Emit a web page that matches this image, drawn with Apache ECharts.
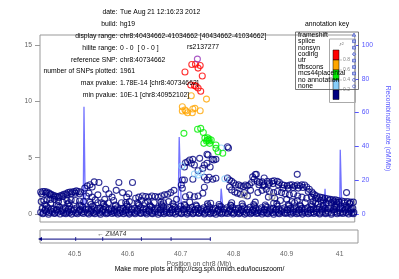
<!DOCTYPE html>
<html><head><meta charset="utf-8">
<script src="https://cdn.jsdelivr.net/npm/echarts@6/dist/echarts.min.js"></script>
<style>html,body{margin:0;padding:0;background:#fff}#c{width:399px;height:279px}</style>
</head><body><div id="c"></div>
<script>
// ---- axes ----
const xRange = [40.434662, 41.034662];
const xTicks = [40.5, 40.6, 40.7, 40.8, 40.9, 41];
const pTicks = [0, 5, 10, 15];
const recTicks = [0, 20, 40, 60, 80, 100];

// ---- SNPs: [position (Mb), -log10 p] ----
const snpRef = [[40.7347, 13.75]];
const snpRed = [[40.711,12.6],[40.724,13.27],[40.731,13.3],[40.740,13.18],[40.736,12.95],[40.744,12.25],
  [40.722,11.45],[40.729,11.4],[40.736,11.18],[40.741,10.9],[40.732,11.35]];
const snpOrange = [[40.752,10.2],[40.723,10.5],[40.706,9.52],[40.711,9.23],[40.716,8.99],[40.726,9.32],
  [40.725,8.99],[40.740,9.17],[40.706,9.14],[40.730,9.38],[40.713,9.14]];
const snpGreen = [[40.709,7.16],[40.735,7.52],[40.741,7.6],[40.746,7.23],[40.754,6.77],[40.754,6.57],
  [40.757,6.65],[40.752,6.48],[40.757,6.48],[40.747,6.27],[40.758,6.27],[40.761,6.57],[40.770,6.12],
  [40.770,5.83],[40.774,5.53],[40.783,5.39],[40.749,6.74]];
const snpLightBlue = [[40.705,4.26],[40.736,3.46],[40.742,3.66],[40.787,3.13],[40.780,5.86],[40.729,3.55]];
const snpGray = [[40.824,1.69],[40.877,1.53]];
const snpNavy = [
  [40.792,5.97],[40.794,5.86],[40.770,4.85],[40.763,4.85],[40.753,5.3],[40.739,4.94],[40.726,4.85],[40.720,4.79],
  [40.716,4.64],[40.712,4.55],[40.723,4.5],[40.729,4.35],[40.748,4.35],[40.753,4.5],[40.745,4.05],[40.736,3.84],
  [40.726,3.08],[40.748,3.26],[40.757,3.26],[40.764,3.08],[40.770,3.17],[40.753,3.02],[40.706,3.02],[40.706,2.28],
  [40.748,2.37],[40.745,1.84],[40.720,1.69],[40.729,1.53],[40.736,1.6],[40.712,1.53],[40.766,4.79],[40.755,5.24],
  [40.710,4.17],[40.704,2.57],[40.710,3.02],[40.759,4.17],
  [40.792,3.19],[40.796,3.02],[40.800,2.9],[40.804,2.75],[40.808,2.57],[40.813,2.6],[40.817,2.5],[40.822,2.44],
  [40.826,2.57],[40.830,2.5],[40.834,2.6],[40.838,2.8],[40.843,3.1],[40.845,3.5],[40.840,3.3],[40.796,2.4],
  [40.800,2.13],[40.806,1.95],[40.811,1.85],[40.817,1.75],[40.824,1.9],[40.830,1.6],[40.836,2.1],
  [40.849,2.9],[40.853,2.8],[40.858,2.85],[40.862,2.6],[40.868,2.9],[40.872,2.75],[40.877,2.9],[40.881,2.95],
  [40.887,2.9],[40.891,2.8],[40.896,2.6],[40.900,2.55],[40.906,2.5],[40.911,2.57],[40.915,2.6],[40.920,2.5],
  [40.925,2.57],[40.930,2.5],[40.934,2.6],[40.939,2.57],[40.943,2.4],[40.948,2.2],[40.953,1.95],[40.958,1.7],
  [40.962,1.6],[40.968,1.5],[40.973,1.45],[40.978,1.4],[40.983,1.35],[40.988,1.3],[40.993,1.25],[40.998,1.25],
  [41.003,1.2],[41.010,1.15],[41.015,1.1],[41.021,1.1],[41.027,1.05],[41.032,1.05],
  [40.852,2.6],[40.860,2.5],[40.870,2.6],[40.879,2.7],[40.889,2.6],[40.898,2.3],[40.908,2.3],[40.917,2.35],
  [40.927,2.3],[40.936,2.35],[40.946,2.0],[40.955,1.8],[40.965,1.35],[40.975,1.25],[40.985,1.2],[40.995,1.1],
  [41.005,1.05],[41.015,0.95],[41.025,0.9],
  [40.847,3.52],[40.925,3.52],[40.862,3.2],[41.019,1.9],
  [40.850,1.9],[40.858,2.1],[40.866,2.2],[40.872,2.0],[40.880,1.9],[40.887,2.0],[40.895,1.9],[40.902,1.8],
  [40.910,1.7],[40.918,1.8],[40.926,1.6],[40.934,1.5],[40.943,1.4],[40.952,1.5],[40.960,1.4],[40.970,1.2],
  [40.980,1.0],[40.990,1.0],[41.000,0.9],
  [40.870,1.5],[40.882,1.4],[40.893,1.2],[40.905,1.3],[40.915,1.1],[40.925,1.2],[40.940,1.0],[40.955,1.1],[40.965,0.9],
  [40.436,1.95],[40.440,2.0],[40.444,2.0],[40.448,1.95],[40.452,1.85],[40.456,1.75],[40.460,1.65],[40.464,1.6],
  [40.468,1.55],[40.472,1.6],[40.476,1.65],[40.480,1.75],[40.484,1.8],[40.488,1.9],[40.492,1.95],[40.496,1.95],
  [40.500,2.0],[40.504,2.05],[40.508,2.0],[40.512,1.95],
  [40.438,1.8],[40.446,1.85],[40.454,1.7],[40.462,1.5],[40.470,1.45],[40.478,1.55],[40.486,1.7],[40.494,1.8],
  [40.502,1.85],[40.510,1.8],
  [40.437,1.1],[40.442,1.2],[40.448,1.25],[40.455,1.3],[40.462,1.3],[40.470,1.1],[40.478,1.05],[40.486,1.2],
  [40.494,1.25],[40.502,1.2],[40.510,1.15],[40.518,1.1],
  [40.525,2.5],[40.530,2.6],[40.534,2.4],[40.538,2.85],[40.547,2.8],[40.528,1.85],[40.534,1.5],[40.540,1.25],
  [40.545,1.7],[40.552,1.0],[40.560,2.2],[40.566,1.8],[40.572,1.5],[40.580,2.1],[40.585,2.8],[40.592,1.9],
  [40.600,1.5],[40.604,1.8],[40.611,2.8],[40.617,1.4],[40.623,1.5],[40.630,1.6],[40.636,1.55],[40.642,1.5],
  [40.648,1.6],[40.654,1.55],[40.660,1.5],[40.666,1.6],[40.672,1.7],[40.678,1.75],[40.684,1.9],[40.690,2.1],
  [40.620,1.0],[40.628,1.2],[40.640,1.1],[40.652,1.0],[40.665,1.05],[40.680,1.1],[40.695,1.3],[40.575,1.2],
  [40.590,1.0],[40.605,1.1],[40.558,1.3],[40.545,1.0],[40.520,2.3],[40.523,1.6],
  [40.436,0.15],[40.441,0.1],[40.447,0.2],[40.452,0.12],[40.458,0.18],[40.463,0.1],[40.469,0.15],[40.475,0.22],
  [40.480,0.1],[40.486,0.16],[40.491,0.12],[40.497,0.2],[40.503,0.1],[40.508,0.18],[40.514,0.14],[40.519,0.2],
  [40.525,0.1],[40.531,0.16],[40.536,0.12],[40.542,0.2],[40.548,0.1],[40.553,0.18],[40.559,0.14],[40.564,0.1],
  [40.570,0.2],[40.576,0.12],[40.581,0.16],[40.587,0.1],[40.592,0.2],[40.598,0.14],[40.604,0.1],[40.609,0.18],
  [40.615,0.12],[40.620,0.2],[40.626,0.1],[40.632,0.16],[40.637,0.12],[40.643,0.2],[40.648,0.1],[40.654,0.18],
  [40.660,0.14],[40.665,0.1],[40.671,0.2],[40.676,0.12],[40.682,0.16],[40.688,0.1],[40.693,0.2],[40.699,0.14],
  [40.704,0.1],[40.710,0.18],[40.716,0.12],[40.721,0.2],[40.727,0.1],[40.732,0.16],[40.738,0.12],[40.744,0.2],
  [40.749,0.1],[40.755,0.18],[40.760,0.14],[40.766,0.1],[40.772,0.2],[40.777,0.12],[40.783,0.16],[40.788,0.1],
  [40.794,0.2],[40.800,0.14],[40.805,0.1],[40.811,0.18],[40.816,0.12],[40.822,0.2],[40.828,0.1],[40.833,0.16],
  [40.839,0.12],[40.844,0.2],[40.850,0.1],[40.856,0.18],[40.861,0.14],[40.867,0.1],[40.872,0.2],[40.878,0.12],
  [40.884,0.16],[40.889,0.1],[40.895,0.2],[40.900,0.14],[40.906,0.1],[40.912,0.18],[40.917,0.12],[40.923,0.2],
  [40.928,0.1],[40.934,0.16],[40.940,0.12],[40.945,0.2],[40.951,0.1],[40.956,0.18],[40.962,0.14],[40.968,0.1],
  [40.973,0.2],[40.979,0.12],[40.984,0.16],[40.990,0.1],[40.996,0.2],[41.001,0.14],[41.007,0.1],[41.012,0.18],
  [41.018,0.12],[41.024,0.2],[41.029,0.1],[41.033,0.16],
  [40.439,0.5],[40.450,0.55],[40.461,0.45],[40.472,0.6],[40.483,0.5],[40.494,0.4],[40.505,0.55],[40.516,0.6],
  [40.527,0.45],[40.538,0.55],[40.549,0.5],[40.560,0.6],[40.571,0.45],[40.582,0.55],[40.593,0.5],[40.604,0.6],
  [40.615,0.5],[40.626,0.55],[40.637,0.45],[40.648,0.6],[40.659,0.5],[40.670,0.65],[40.681,0.55],[40.692,0.6],
  [40.703,0.7],[40.714,0.55],[40.725,0.6],[40.736,0.5],[40.747,0.55],[40.758,0.6],[40.769,0.5],[40.780,0.65],
  [40.791,0.55],[40.802,0.6],[40.813,0.5],[40.824,0.55],[40.835,0.6],[40.846,0.5],[40.857,0.55],[40.868,0.6],
  [40.879,0.5],[40.890,0.45],[40.901,0.55],[40.912,0.5],[40.923,0.6],[40.934,0.5],[40.945,0.55],[40.956,0.45],
  [40.967,0.6],[40.978,0.5],[40.989,0.55],[41.000,0.6],[41.011,0.5],[41.022,0.55],[41.031,0.5],
  [40.445,0.42],[40.456,0.45],[40.467,0.4],[40.478,0.44],[40.489,0.42],[40.500,0.46],[40.511,0.4],[40.522,0.44],
  [40.533,0.42],[40.544,0.47],[40.555,0.41],[40.566,0.44],[40.577,0.42],[40.588,0.45],[40.599,0.4],[40.610,0.44],
  [40.621,0.42],[40.632,0.46],[40.643,0.4],[40.654,0.44],[40.665,0.42],[40.676,0.45],[40.687,0.41],[40.698,0.44],
  [40.709,0.42],[40.720,0.46],[40.731,0.4],[40.742,0.44],[40.753,0.42],[40.764,0.45],[40.775,0.41],[40.786,0.44],
  [40.797,0.42],[40.808,0.46],[40.819,0.4],[40.830,0.44],[40.841,0.42],[40.852,0.45],[40.863,0.41],[40.874,0.44],
  [40.885,0.42],[40.896,0.46],[40.907,0.4],[40.918,0.44],[40.929,0.42],[40.940,0.45],[40.951,0.41],[40.962,0.44],
  [40.973,0.42],[40.984,0.46],[40.995,0.4],[41.006,0.44],[41.017,0.42],[41.028,0.45],
  [40.444,0.85],[40.466,0.8],[40.488,0.9],[40.510,0.8],[40.532,0.85],[40.556,0.9],[40.578,0.8],[40.600,0.85],
  [40.622,0.9],[40.644,0.8],[40.666,0.85],[40.688,0.9],[40.710,0.85],[40.732,0.8],[40.754,0.9],[40.776,0.85],
  [40.798,0.8],[40.820,0.9],[40.842,0.85],[40.864,0.8],[40.886,0.9],[40.908,0.85],[40.930,0.8],[40.952,0.85],
  [40.974,0.75],[40.996,0.7],[41.018,0.75],
  [40.455,0.95],[40.490,1.0],[40.530,1.05],[40.565,0.98],[40.598,1.02],[40.635,0.95],[40.670,1.0],[40.720,1.05],
  [40.760,0.95],[40.800,1.0],[40.845,1.05],[40.880,0.95],[40.920,1.0],[40.960,0.98],[41.000,1.05],[41.025,0.95],
  [40.444,0.32],[40.455,0.28],[40.466,0.35],[40.477,0.3],[40.488,0.26],[40.499,0.34],[40.510,0.3],[40.521,0.36],
  [40.532,0.28],[40.543,0.32],[40.554,0.3],[40.565,0.35],[40.576,0.28],[40.587,0.32],[40.598,0.3],[40.609,0.36],
  [40.620,0.3],[40.631,0.34],[40.642,0.28],[40.653,0.32],[40.664,0.36],[40.675,0.3],[40.686,0.34],[40.697,0.3],
  [40.708,0.38],[40.719,0.32],[40.730,0.35],[40.741,0.3],[40.752,0.36],[40.763,0.32],[40.774,0.3],[40.785,0.35],
  [40.796,0.3],[40.807,0.34],[40.818,0.3],[40.829,0.36],[40.840,0.32],[40.851,0.3],[40.862,0.35],[40.873,0.3],
  [40.884,0.34],[40.895,0.3],[40.906,0.36],[40.917,0.3],[40.928,0.34],[40.939,0.3],[40.950,0.35],[40.961,0.3],
  [40.972,0.34],[40.983,0.3],[40.994,0.36],[41.005,0.3],[41.016,0.34],[41.027,0.3],
  [40.440,0.02],[40.451,-0.02],[40.462,0.04],[40.473,0.0],[40.484,0.03],[40.495,-0.01],[40.506,0.02],[40.517,0.05],
  [40.528,0.0],[40.539,0.03],[40.550,-0.02],[40.561,0.02],[40.572,0.04],[40.583,0.0],[40.594,0.03],[40.605,-0.01],
  [40.616,0.02],[40.627,0.05],[40.638,0.0],[40.649,0.03],[40.660,-0.02],[40.671,0.02],[40.682,0.04],[40.693,0.0],
  [40.704,0.03],[40.715,-0.01],[40.726,0.02],[40.737,0.05],[40.748,0.0],[40.759,0.03],[40.770,-0.02],[40.781,0.02],
  [40.792,0.04],[40.803,0.0],[40.814,0.03],[40.825,-0.01],[40.836,0.02],[40.847,0.05],[40.858,0.0],[40.869,0.03],
  [40.880,-0.02],[40.891,0.02],[40.902,0.04],[40.913,0.0],[40.924,0.03],[40.935,-0.01],[40.946,0.02],[40.957,0.05],
  [40.968,0.0],[40.979,0.03],[40.990,-0.02],[41.001,0.02],[41.012,0.04],[41.023,0.0],[41.032,0.03],
  [40.447,0.7],[40.469,0.72],[40.491,0.68],[40.513,0.74],[40.535,0.7],[40.557,0.66],[40.579,0.72],[40.601,0.7],
  [40.623,0.75],[40.645,0.68],[40.667,0.72],[40.689,0.7],[40.711,0.76],[40.733,0.7],[40.755,0.72],[40.777,0.68],
  [40.799,0.74],[40.821,0.7],[40.843,0.72],[40.865,0.66],[40.887,0.7],[40.909,0.72],[40.931,0.68],[40.953,0.7],
  [40.975,0.65],[40.997,0.62],[41.019,0.6]
];

// ---- recombination rate: [position (Mb), cM/Mb] ----
const recomb = [[40.434,0.5],[40.45,0.8],[40.47,0.5],[40.49,1],[40.51,0.8],[40.517,1],[40.5185,63.5],[40.5195,63],
  [40.521,2],[40.54,1],[40.56,0.5],[40.6,0.8],[40.65,0.5],[40.69,1.2],[40.698,3],[40.700,45.5],[40.702,45],
  [40.704,4],[40.72,1],[40.75,0.8],[40.778,1.5],[40.780,15],[40.782,14],[40.784,1.5],[40.82,1],[40.85,0.6],
  [40.88,1],[40.9,0.8],[40.93,1.2],[40.96,1.5],[40.976,2],[40.978,15],[40.980,2],[41.0,1.8],[41.006,2],
  [41.007,38],[41.008,37],[41.010,2],[41.02,1],[41.034,0.8]];

// ---- gene ----
const geneName = 'ZMAT4';
const geneSpan = [40.434662, 40.757];
const geneExons = [40.502, 40.553, 40.626, 40.682, 40.756];
const geneLabelPos = 40.570;

// ---- texts ----
const infoLabels = ['date:', 'build:', 'display range:', 'hilite range:', 'reference SNP:', 'number of SNPs plotted:', 'max pvalue:', 'min pvalue:'];
const infoValues = ['Tue Aug 21 12:16:23 2012', 'hg19', 'chr8:40434662-41034662 [40434662-41034662]', '0 - 0  [ 0 - 0 ]',
  'chr8:40734662', '1961', '1.78E-14 [chr8:40734662]', '10E-1 [chr8:40952102]'];
const refSnpName = 'rs2137277';
const annotItems = ['frameshift', 'splice', 'nonsyn', 'coding', 'utr', 'tfbscons', 'mcs44placental', 'no annotation', 'none'];
const annotSymbols = ['triangle', 'rect', 'rect', 'diamond', 'rect', 'rect', 'rect', 'circle', 'circle'];
const ldColors = ['#FF0000', '#FFA500', '#00EE00', '#87CEFA', '#000080'];
const ldLabels = ['0.8', '0.6', '0.4', '0.2'];

const FONT = 'Liberation Sans';
const chart = echarts.init(document.getElementById('c'), null, {renderer: 'canvas'});

const graphics = [];
infoLabels.forEach((t, i) => {
  const y = 12.5 + i * 11.8;
  graphics.push({type: 'text', x: 117.5, y, style: {text: t, fill: '#000', font: `6.8px "${FONT}"`, textAlign: 'right', textVerticalAlign: 'middle'}, z: 20});
  graphics.push({type: 'text', x: 120, y, style: {text: infoValues[i], fill: '#000', font: `6.8px "${FONT}"`, textAlign: 'left', textVerticalAlign: 'middle'}, z: 20});
});
graphics.push({type: 'text', x: 203, y: 47.5, style: {text: refSnpName, fill: '#000', font: `6.8px "${FONT}"`, textAlign: 'center', textVerticalAlign: 'middle'}, z: 20});
// r^2 box
graphics.push({type: 'rect', shape: {x: 329.5, y: 39, width: 26, height: 63.5}, style: {fill: 'rgba(255,255,255,0)', stroke: '#aaa', lineWidth: 1}, z: 20});
graphics.push({type: 'text', x: 341.5, y: 44, style: {text: 'r²', fill: '#777', font: `italic 6px "${FONT}"`, textAlign: 'center', textVerticalAlign: 'middle'}, z: 21});
ldColors.forEach((c, i) => {
  graphics.push({type: 'rect', shape: {x: 333, y: 50 + i * 10, width: 6, height: i === 4 ? 9.5 : 10}, style: {fill: c, stroke: '#000', lineWidth: 0.5}, z: 21});
});
ldLabels.forEach((t, i) => {
  const y = 60 + i * 10;
  graphics.push({type: 'line', shape: {x1: 339, y1: y, x2: 342, y2: y}, style: {stroke: '#999', lineWidth: 0.6}, z: 21});
  graphics.push({type: 'text', x: 343, y, style: {text: t, fill: '#888', font: `5px "${FONT}"`, textAlign: 'left', textVerticalAlign: 'middle'}, z: 21});
});
// annotation key
graphics.push({type: 'text', x: 327, y: 24, style: {text: 'annotation key', fill: '#000', font: `6.8px "${FONT}"`, textAlign: 'center', textVerticalAlign: 'middle'}, z: 20});
graphics.push({type: 'rect', shape: {x: 295.5, y: 32, width: 63, height: 57.5}, style: {fill: 'rgba(255,255,255,0)', stroke: '#555', lineWidth: 0.8}, z: 22});
annotItems.forEach((t, i) => {
  const y = 34.8 + i * 6.45;
  graphics.push({type: 'text', x: 298, y, style: {text: t, fill: '#000', font: `6.8px "${FONT}"`, textAlign: 'left', textVerticalAlign: 'middle'}, z: 23});
  const s = annotSymbols[i];
  const style = {fill: '#aab4ee', stroke: '#3344bb', lineWidth: 0.6};
  if (s === 'triangle') graphics.push({type: 'polygon', shape: {points: [[354, y - 1.8], [352.2, y + 1.4], [355.8, y + 1.4]]}, style, z: 23});
  else if (s === 'diamond') graphics.push({type: 'polygon', shape: {points: [[354, y - 1.8], [355.8, y], [354, y + 1.8], [352.2, y]]}, style, z: 23});
  else if (s === 'circle') graphics.push({type: 'circle', shape: {cx: 354, cy: y, r: 1.5}, style: {fill: 'none', stroke: '#3344bb', lineWidth: 0.6}, z: 23});
  else graphics.push({type: 'rect', shape: {x: 352.5, y: y - 1.4, width: 3, height: 2.8}, style, z: 23});
});
graphics.push({type: 'text', x: 199.5, y: 269.5, style: {text: 'Make more plots at http://csg.sph.umich.edu/locuszoom/', fill: '#000', font: `6.8px "${FONT}"`, textAlign: 'center', textVerticalAlign: 'middle'}, z: 20});

function snpSeries(name, data, color, z) {
  return {name, type: 'scatter', xAxisIndex: 0, yAxisIndex: 0, data, symbol: 'circle', symbolSize: 6,
    itemStyle: {color: 'rgba(0,0,0,0)', borderColor: color, borderWidth: 1.1}, z, silent: true, animation: false};
}

const option = {
  animation: false,
  textStyle: {fontFamily: FONT},
  grid: [
    {left: 40, top: 35, width: 318, height: 187, show: true, borderColor: '#999', borderWidth: 1, backgroundColor: 'transparent'},
    {left: 40, top: 230, width: 318, height: 13, show: true, borderColor: '#999', borderWidth: 1, backgroundColor: 'transparent'}
  ],
  xAxis: [
    {type: 'value', gridIndex: 0, min: xRange[0], max: xRange[1], axisLine: {show: false}, axisTick: {show: false}, axisLabel: {show: false}, splitLine: {show: false}},
    {type: 'value', gridIndex: 1, min: xRange[0], max: xRange[1], axisLine: {show: false}, axisTick: {show: false}, splitLine: {show: false},
      axisLabel: {customValues: xTicks, color: '#666', fontSize: 6.8, margin: 8, formatter: v => String(Math.round(v * 10) / 10)},
      name: 'Position on chr8 (Mb)', nameLocation: 'middle', nameGap: 17.5, nameTextStyle: {color: '#555', fontSize: 6.8}}
  ],
  yAxis: [
    {type: 'value', gridIndex: 0, min: -0.71, max: 15.89, axisLine: {show: false}, splitLine: {show: false},
      axisTick: {show: true, customValues: pTicks, length: 5, lineStyle: {color: '#999'}},
      axisLabel: {customValues: pTicks, color: '#666', fontSize: 6.8, margin: 8}},
    {type: 'value', gridIndex: 0, position: 'right', min: -4.73, max: 105.93, axisLine: {show: false}, splitLine: {show: false},
      axisTick: {show: true, customValues: recTicks, length: 4, lineStyle: {color: '#5555ff'}},
      axisLabel: {customValues: recTicks, color: '#5555ff', fontSize: 6.8, margin: 7},
      name: 'Recombination rate (cM/Mb)', nameLocation: 'middle', nameRotate: -90, nameGap: 22, nameTextStyle: {color: '#5555ff', fontSize: 6.8}},
    {type: 'value', gridIndex: 1, min: -1, max: 1, show: false}
  ],
  graphic: graphics,
  series: [
    {name: 'recomb', type: 'line', xAxisIndex: 0, yAxisIndex: 1, data: recomb, symbol: 'none', clip: true,
      lineStyle: {color: 'rgba(40,40,255,0.65)', width: 1.3}, z: 1, silent: true},
    snpSeries('navy', snpNavy, '#000080', 2),
    snpSeries('gray', snpGray, '#888888', 3),
    snpSeries('lightblue', snpLightBlue, '#87CEFA', 3),
    snpSeries('green', snpGreen, '#00EE00', 4),
    snpSeries('orange', snpOrange, '#FFA500', 5),
    snpSeries('red', snpRed, '#FF0000', 6),
    snpSeries('ref', snpRef, '#9632B8', 7),
    {name: 'gene', type: 'line', xAxisIndex: 1, yAxisIndex: 2,
      data: [{value: [geneSpan[0], -0.4], symbol: 'triangle', symbolSize: [4, 4], symbolRotate: 90}, {value: [geneSpan[1], -0.4], symbol: 'none'}],
      lineStyle: {color: '#000080', width: 1}, itemStyle: {color: '#000080'}, silent: true},
    {name: 'exons', type: 'scatter', xAxisIndex: 1, yAxisIndex: 2, data: geneExons.map(p => [p, -0.4]), symbol: 'rect', symbolSize: [1, 4],
      itemStyle: {color: '#000080'}, silent: true},
    {name: 'geneLabel', type: 'scatter', xAxisIndex: 1, yAxisIndex: 2, data: [[geneLabelPos, 0.35]], symbolSize: 0,
      label: {show: true, position: 'inside', formatter: '\u2190 ' + geneName, fontStyle: 'italic', fontSize: 6.5, color: '#000'}, silent: true}
  ]
};
chart.setOption(option);
</script>
</body></html>
